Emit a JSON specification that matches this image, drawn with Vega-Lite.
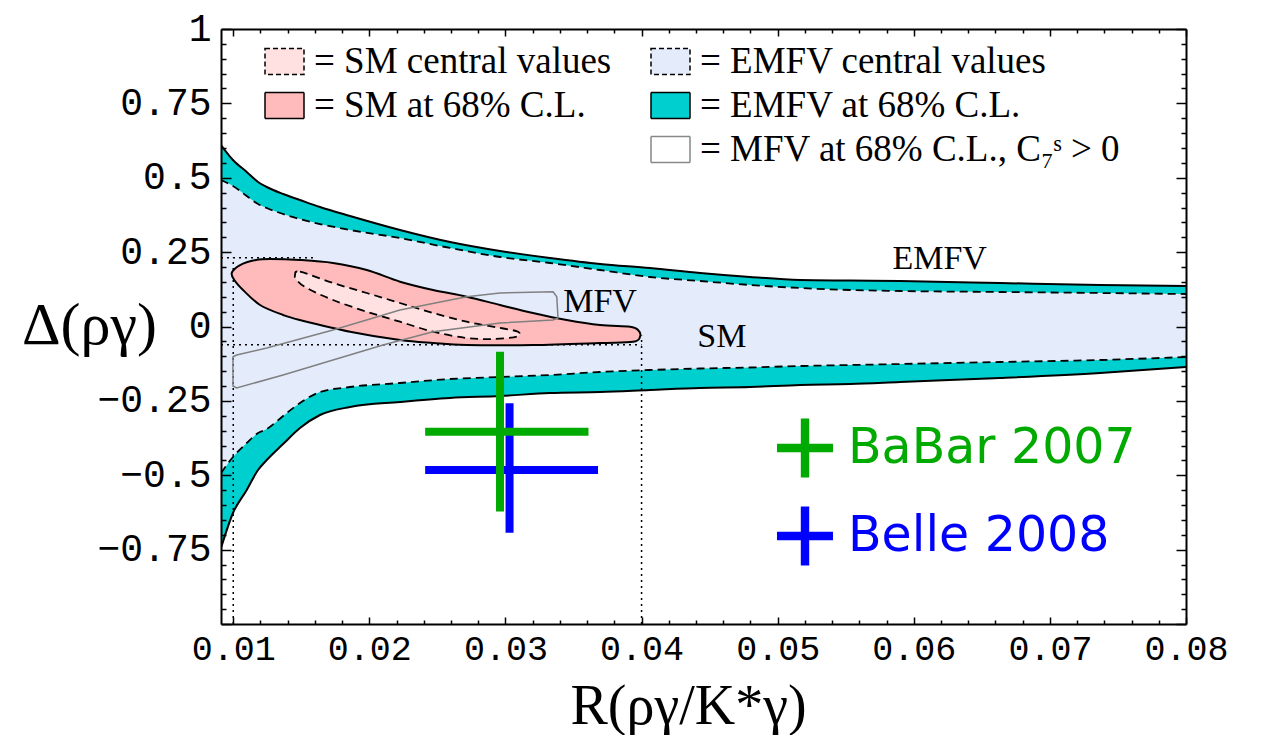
{
"$schema": "https://vega.github.io/schema/vega-lite/v6.json",
"width": 965, "height": 595,
"autosize": {"type": "none"},
"padding": {"left": 221, "top": 29, "right": 77, "bottom": 111},
"background": "white",
"config": {"view": {"stroke": null}, "axis": {"grid": false}},
"datasets": {
"emfv": [
{"x":0.0091,"hi68":0.610,"hicen":0.4924,"locen":-0.4924,"lo68":-0.7445},
{"x":0.00998,"hi68":0.5597,"hicen":0.4723,"locen":-0.4387,"lo68":-0.6269},
{"x":0.01099,"hi68":0.5193,"hicen":0.4387,"locen":-0.3916,"lo68":-0.5496},
{"x":0.01182,"hi68":0.4857,"hicen":0.4118,"locen":-0.358,"lo68":-0.4824},
{"x":0.01246,"hi68":0.4689,"hicen":0.3983,"locen":-0.3445,"lo68":-0.4487},
{"x":0.01366,"hi68":0.4454,"hicen":0.3782,"locen":-0.3008,"lo68":-0.395},
{"x":0.0149,"hi68":0.4252,"hicen":0.3613,"locen":-0.2571,"lo68":-0.3412},
{"x":0.01637,"hi68":0.4017,"hicen":0.3445,"locen":-0.2202,"lo68":-0.2975},
{"x":0.01858,"hi68":0.3714,"hicen":0.3244,"locen":-0.2034,"lo68":-0.2706},
{"x":0.02225,"hi68":0.3244,"hicen":0.2975,"locen":-0.1899,"lo68":-0.2538},
{"x":0.02593,"hi68":0.284,"hicen":0.2639,"locen":-0.1765,"lo68":-0.2403},
{"x":0.0296,"hi68":0.2538,"hicen":0.2336,"locen":-0.1697,"lo68":-0.2336},
{"x":0.03327,"hi68":0.2303,"hicen":0.2134,"locen":-0.163,"lo68":-0.2235},
{"x":0.03695,"hi68":0.2101,"hicen":0.1899,"locen":-0.1529,"lo68":-0.2202},
{"x":0.04062,"hi68":0.1966,"hicen":0.1664,"locen":-0.1462,"lo68":-0.2134},
{"x":0.0443,"hi68":0.1798,"hicen":0.1529,"locen":-0.1412,"lo68":-0.2067},
{"x":0.04797,"hi68":0.1664,"hicen":0.1395,"locen":-0.1378,"lo68":-0.2034},
{"x":0.05164,"hi68":0.1563,"hicen":0.1294,"locen":-0.1328,"lo68":-0.1966},
{"x":0.05532,"hi68":0.1546,"hicen":0.1227,"locen":-0.1294,"lo68":-0.1933},
{"x":0.05899,"hi68":0.1529,"hicen":0.1193,"locen":-0.1261,"lo68":-0.1866},
{"x":0.06634,"hi68":0.1462,"hicen":0.116,"locen":-0.1193,"lo68":-0.1731},
{"x":0.07369,"hi68":0.1395,"hicen":0.1126,"locen":-0.1126,"lo68":-0.1563},
{"x":0.08,"hi68":0.1361,"hicen":0.1092,"locen":-0.1025,"lo68":-0.1361}
],
"sm68": [
{"i":0,"x":0.00989,"y":0.1798},{"i":1,"x":0.0105,"y":0.2067},{"i":2,"x":0.01167,"y":0.2235},{"i":3,"x":0.0127,"y":0.2269},
{"i":4,"x":0.0149,"y":0.2235},{"i":5,"x":0.01733,"y":0.2134},{"i":6,"x":0.01981,"y":0.1899},{"i":7,"x":0.02225,"y":0.1506},
{"i":8,"x":0.02468,"y":0.1227},{"i":9,"x":0.02715,"y":0.1002},{"i":10,"x":0.0296,"y":0.0723},{"i":11,"x":0.03202,"y":0.0454},
{"i":12,"x":0.0345,"y":0.0218},{"i":13,"x":0.03695,"y":0.005},{"i":14,"x":0.03915,"y":-0.0007},{"i":15,"x":0.03974,"y":-0.0118},
{"i":16,"x":0.03989,"y":-0.0343},{"i":17,"x":0.03937,"y":-0.0511},{"i":18,"x":0.03695,"y":-0.0555},{"i":19,"x":0.03202,"y":-0.0622},
{"i":20,"x":0.02715,"y":-0.0622},{"i":21,"x":0.02468,"y":-0.0555},{"i":22,"x":0.02225,"y":-0.0454},{"i":23,"x":0.01858,"y":-0.0175},
{"i":24,"x":0.0149,"y":0.0218},{"i":25,"x":0.01366,"y":0.0387},{"i":26,"x":0.01197,"y":0.0723},{"i":27,"x":0.01072,"y":0.1227},
{"i":28,"x":0.01013,"y":0.1529}
],
"smcen": [
{"i":0,"x":0.01454,"y":0.1731},{"i":1,"x":0.0149,"y":0.1842},{"i":2,"x":0.01733,"y":0.1462},{"i":3,"x":0.01981,"y":0.1126},
{"i":4,"x":0.02225,"y":0.079},{"i":5,"x":0.02468,"y":0.0454},{"i":6,"x":0.02715,"y":0.0161},{"i":7,"x":0.0296,"y":-0.005},
{"i":8,"x":0.03092,"y":-0.0175},{"i":9,"x":0.03083,"y":-0.0343},{"i":10,"x":0.0291,"y":-0.042},{"i":11,"x":0.02715,"y":-0.0387},
{"i":12,"x":0.02468,"y":-0.0175},{"i":13,"x":0.02225,"y":0.0161},{"i":14,"x":0.01981,"y":0.0497},{"i":15,"x":0.01733,"y":0.0891},
{"i":16,"x":0.0154,"y":0.1294},{"i":17,"x":0.01466,"y":0.1563}
],
"mfv": [
{"i":0,"x":0.00998,"y":-0.1015},{"i":1,"x":0.01025,"y":-0.0958},{"i":2,"x":0.01246,"y":-0.0723},{"i":3,"x":0.01733,"y":-0.0118},
{"i":4,"x":0.02225,"y":0.0555},{"i":5,"x":0.02715,"y":0.1002},{"i":6,"x":0.0296,"y":0.1126},{"i":7,"x":0.0335,"y":0.117},
{"i":8,"x":0.03377,"y":0.1002},{"i":9,"x":0.03386,"y":0.0286},{"i":10,"x":0.0335,"y":0.0218},{"i":11,"x":0.0296,"y":0.0118},
{"i":12,"x":0.02468,"y":-0.0175},{"i":13,"x":0.021,"y":-0.0622},{"i":14,"x":0.01733,"y":-0.1126},{"i":15,"x":0.01366,"y":-0.163},
{"i":16,"x":0.01025,"y":-0.2067},{"i":17,"x":0.00998,"y":-0.2}
],
"dotted": [
{"x":0.01,"x2":0.01,"y":-1,"y2":0.231},
{"x":0.04,"x2":0.04,"y":-1,"y2":-0.03},
{"x":0.0091,"x2":0.04,"y":-0.061,"y2":-0.061},
{"x":0.0091,"x2":0.016,"y":0.231,"y2":0.231}
],
"notes": [
{"t":"MFV","x":0.03695,"y":0.082},
{"t":"SM","x":0.0459,"y":-0.035},
{"t":"EMFV","x":0.0619,"y":0.227}
],
"exps": [
{"exp":"Belle 2008","x":0.0303,"xlo":0.0241,"xhi":0.0368,"y":-0.482,"ylo":-0.693,"yhi":-0.258},
{"exp":"BaBar 2007","x":0.0296,"xlo":0.0241,"xhi":0.0361,"y":-0.354,"ylo":-0.622,"yhi":-0.085}
]
},
"resolve": {"scale": {"fill": "independent"}, "axis": {"x": "independent", "y": "independent"}},
"layer": [
{
"layer": [
{"data": {"name": "emfv"},
 "mark": {"type": "area", "interpolate": "monotone", "clip": true},
 "encoding": {
  "x": {"field": "x", "type": "quantitative", "scale": {"domain": [0.0091, 0.08], "nice": false, "zero": false}, "axis": null},
  "y": {"field": "locen", "type": "quantitative", "scale": {"domain": [-1, 1], "nice": false, "zero": false}, "axis": null},
  "y2": {"field": "hicen"},
  "fill": {"datum": "EMFV central values", "type": "nominal",
   "scale": {"domain": ["EMFV central values", "EMFV at 68% C.L.", "MFV at 68% C.L., C₇ˢ > 0"], "range": ["#E4ECFC", "#00CFCF", "#FFFFFF"]},
   "legend": {"orient": "none", "legendX": 431, "legendY": 14, "title": null, "direction": "vertical", "padding": 0,
    "symbolType": "M-1.5,-1H1.5V1H-1.5Z", "symbolSize": 676, "symbolStrokeWidth": 1.5, "symbolStrokeColor": "black",
    "labelFont": "Liberation Serif", "labelFontSize": 37, "labelColor": "black", "labelLimit": 0, "labelOffset": 11, "rowPadding": 6,
    "labelExpr": "'= ' + datum.label",
    "encode": {"symbols": {"update": {
     "strokeDash": {"signal": "datum.value === 'EMFV central values' ? [5,3] : [1,0]"},
     "stroke": {"signal": "datum.value === 'EMFV at 68% C.L.' || datum.value === 'EMFV central values' ? 'black' : '#888888'"},
     "fill": {"signal": "datum.value === 'EMFV central values' ? '#E4ECFC' : (datum.value === 'EMFV at 68% C.L.' ? '#00CFCF' : '#FFFFFF')"},
     "opacity": {"value": 1}, "fillOpacity": {"value": 1}, "strokeWidth": {"value": 1.5}}}}}}
 }},
{"data": {"name": "emfv"},
 "mark": {"type": "area", "interpolate": "monotone", "clip": true},
 "encoding": {
  "x": {"field": "x", "type": "quantitative", "scale": {"domain": [0.0091, 0.08], "nice": false, "zero": false}, "axis": null},
  "y": {"field": "hicen", "type": "quantitative", "scale": {"domain": [-1, 1], "nice": false, "zero": false}, "axis": null},
  "y2": {"field": "hi68"},
  "fill": {"datum": "EMFV at 68% C.L.", "type": "nominal",
   "scale": {"domain": ["EMFV central values", "EMFV at 68% C.L.", "MFV at 68% C.L., C₇ˢ > 0"], "range": ["#E4ECFC", "#00CFCF", "#FFFFFF"]}}
 }},
{"data": {"name": "emfv"},
 "mark": {"type": "area", "interpolate": "monotone", "clip": true},
 "encoding": {
  "x": {"field": "x", "type": "quantitative", "scale": {"domain": [0.0091, 0.08], "nice": false, "zero": false}, "axis": null},
  "y": {"field": "lo68", "type": "quantitative", "scale": {"domain": [-1, 1], "nice": false, "zero": false}, "axis": null},
  "y2": {"field": "locen"},
  "fill": {"datum": "EMFV at 68% C.L.", "type": "nominal",
   "scale": {"domain": ["EMFV central values", "EMFV at 68% C.L.", "MFV at 68% C.L., C₇ˢ > 0"], "range": ["#E4ECFC", "#00CFCF", "#FFFFFF"]}}
 }},
{"data": {"name": "emfv"},
 "transform": [{"fold": ["hi68", "lo68"], "as": ["k", "v"]}],
 "mark": {"type": "line", "interpolate": "monotone", "stroke": "black", "strokeWidth": 2, "clip": true},
 "encoding": {
  "x": {"field": "x", "type": "quantitative", "scale": {"domain": [0.0091, 0.08], "nice": false, "zero": false}, "axis": null},
  "y": {"field": "v", "type": "quantitative", "scale": {"domain": [-1, 1], "nice": false, "zero": false}, "axis": null},
  "detail": {"field": "k", "type": "nominal"}
 }},
{"data": {"name": "emfv"},
 "transform": [{"fold": ["hicen", "locen"], "as": ["k", "v"]}],
 "mark": {"type": "line", "interpolate": "monotone", "stroke": "black", "strokeWidth": 1.8, "strokeDash": [8, 5], "clip": true},
 "encoding": {
  "x": {"field": "x", "type": "quantitative", "scale": {"domain": [0.0091, 0.08], "nice": false, "zero": false}, "axis": null},
  "y": {"field": "v", "type": "quantitative", "scale": {"domain": [-1, 1], "nice": false, "zero": false}, "axis": null},
  "detail": {"field": "k", "type": "nominal"}
 }}
]
},
{"data": {"name": "dotted"},
 "mark": {"type": "rule", "stroke": "black", "strokeWidth": 1.5, "strokeDash": [2, 4], "clip": true},
 "encoding": {
  "x": {"field": "x", "type": "quantitative", "scale": {"domain": [0.0091, 0.08], "nice": false, "zero": false},
   "axis": {"orient": "bottom", "zindex": 1, "grid": false,
    "values": [0.01,0.012,0.014,0.016,0.018,0.02,0.022,0.024,0.026,0.028,0.03,0.032,0.034,0.036,0.038,0.04,0.042,0.044,0.046,0.048,0.05,0.052,0.054,0.056,0.058,0.06,0.062,0.064,0.066,0.068,0.07,0.072,0.074,0.076,0.078,0.08],
    "domain": true, "domainColor": "black", "domainWidth": 2,
    "ticks": true, "tickColor": "black", "tickWidth": 1.5,
    "tickSize": {"condition": {"test": "abs(datum.value*100 - round(datum.value*100)) < 1e-6", "value": -7}, "value": -4},
    "labelExpr": "abs(datum.value*100 - round(datum.value*100)) < 1e-6 ? format(datum.value, '.2f') : ''",
    "labelFont": "Liberation Mono", "labelFontSize": 35, "labelColor": "black", "labelPadding": 14,
    "labelFlush": false, "labelOverlap": false, "labelBound": false,
    "title": "R(ργ/K*γ)", "titleFont": "Liberation Serif", "titleFontSize": 56, "titleFontWeight": "normal", "titleColor": "black",
    "titleX": 467, "titleY": 99, "titleAlign": "center", "titleBaseline": "alphabetic"}},
  "x2": {"field": "x2"},
  "y": {"field": "y", "type": "quantitative", "scale": {"domain": [-1, 1], "nice": false, "zero": false},
   "axis": {"orient": "left", "zindex": 1, "grid": false,
    "values": [-1,-0.95,-0.9,-0.85,-0.8,-0.75,-0.7,-0.65,-0.6,-0.55,-0.5,-0.45,-0.4,-0.35,-0.3,-0.25,-0.2,-0.15,-0.1,-0.05,0,0.05,0.1,0.15,0.2,0.25,0.3,0.35,0.4,0.45,0.5,0.55,0.6,0.65,0.7,0.75,0.8,0.85,0.9,0.95,1],
    "domain": true, "domainColor": "black", "domainWidth": 2,
    "ticks": true, "tickColor": "black", "tickWidth": 1.5,
    "tickSize": {"condition": {"test": "abs(datum.value*4 - round(datum.value*4)) < 1e-6", "value": -10}, "value": -5},
    "labelExpr": "abs(datum.value*4 - round(datum.value*4)) < 1e-6 && datum.value > -0.99 ? format(datum.value, '~g') : ''",
    "labelFont": "Liberation Mono", "labelFontSize": 38, "labelColor": "black", "labelPadding": 20,
    "labelFlush": false, "labelOverlap": false, "labelBound": false,
    "title": "Δ(ργ)", "titleAngle": 0, "titleFont": "Liberation Serif", "titleFontSize": 60, "titleFontWeight": "normal", "titleColor": "black",
    "titleX": -132, "titleY": 314, "titleAlign": "center", "titleBaseline": "alphabetic"}},
  "y2": {"field": "y2"}
 }},
{
"layer": [
{"data": {"name": "sm68"},
 "mark": {"type": "line", "interpolate": "cardinal-closed", "stroke": "black", "strokeWidth": 2, "clip": true},
 "encoding": {
  "x": {"field": "x", "type": "quantitative", "scale": {"domain": [0.0091, 0.08], "nice": false, "zero": false}, "axis": null},
  "y": {"field": "y", "type": "quantitative", "scale": {"domain": [-1, 1], "nice": false, "zero": false}, "axis": null},
  "order": {"field": "i", "type": "quantitative"},
  "fill": {"datum": "SM at 68% C.L.", "type": "nominal",
   "scale": {"domain": ["SM central values", "SM at 68% C.L."], "range": ["#FFE1E1", "#FFBBBB"]},
   "legend": {"orient": "none", "legendX": 45, "legendY": 14, "title": null, "direction": "vertical", "padding": 0,
    "symbolType": "M-1.5,-1H1.5V1H-1.5Z", "symbolSize": 676, "symbolStrokeWidth": 1.5, "symbolStrokeColor": "black",
    "labelFont": "Liberation Serif", "labelFontSize": 37, "labelColor": "black", "labelLimit": 0, "labelOffset": 11, "rowPadding": 6,
    "labelExpr": "'= ' + datum.label",
    "encode": {"symbols": {"update": {
     "strokeDash": {"signal": "datum.value === 'SM central values' ? [5,3] : [1,0]"},
     "stroke": {"value": "black"},
     "fill": {"signal": "datum.value === 'SM central values' ? '#FFE1E1' : '#FFBBBB'"},
     "opacity": {"value": 1}, "fillOpacity": {"value": 1}, "strokeWidth": {"value": 1.5}}}}}}
 }},
{"data": {"name": "smcen"},
 "mark": {"type": "line", "interpolate": "cardinal-closed", "stroke": "black", "strokeWidth": 1.8, "strokeDash": [8, 5], "clip": true},
 "encoding": {
  "x": {"field": "x", "type": "quantitative", "scale": {"domain": [0.0091, 0.08], "nice": false, "zero": false}, "axis": null},
  "y": {"field": "y", "type": "quantitative", "scale": {"domain": [-1, 1], "nice": false, "zero": false}, "axis": null},
  "order": {"field": "i", "type": "quantitative"},
  "fill": {"datum": "SM central values", "type": "nominal",
   "scale": {"domain": ["SM central values", "SM at 68% C.L."], "range": ["#FFE1E1", "#FFBBBB"]}}
 }}
]
},
{"data": {"name": "mfv"},
 "mark": {"type": "line", "interpolate": "linear-closed", "stroke": "#808080", "strokeWidth": 1.5, "clip": true},
 "encoding": {
  "x": {"field": "x", "type": "quantitative", "scale": {"domain": [0.0091, 0.08], "nice": false, "zero": false}, "axis": null},
  "y": {"field": "y", "type": "quantitative", "scale": {"domain": [-1, 1], "nice": false, "zero": false}, "axis": null},
  "order": {"field": "i", "type": "quantitative"}
 }},
{"data": {"name": "notes"},
 "mark": {"type": "text", "font": "Liberation Serif", "fontSize": 34, "color": "black", "align": "center", "baseline": "middle"},
 "encoding": {
  "x": {"field": "x", "type": "quantitative", "scale": {"domain": [0.0091, 0.08], "nice": false, "zero": false},
   "axis": {"orient": "top", "zindex": 1, "grid": false, "labels": false, "title": null,
    "values": [0.01,0.012,0.014,0.016,0.018,0.02,0.022,0.024,0.026,0.028,0.03,0.032,0.034,0.036,0.038,0.04,0.042,0.044,0.046,0.048,0.05,0.052,0.054,0.056,0.058,0.06,0.062,0.064,0.066,0.068,0.07,0.072,0.074,0.076,0.078,0.08],
    "domain": true, "domainColor": "black", "domainWidth": 2,
    "ticks": true, "tickColor": "black", "tickWidth": 1.5,
    "tickSize": {"condition": {"test": "abs(datum.value*100 - round(datum.value*100)) < 1e-6", "value": -7}, "value": -4}}},
  "y": {"field": "y", "type": "quantitative", "scale": {"domain": [-1, 1], "nice": false, "zero": false},
   "axis": {"orient": "right", "zindex": 1, "grid": false, "labels": false, "title": null,
    "values": [-1,-0.95,-0.9,-0.85,-0.8,-0.75,-0.7,-0.65,-0.6,-0.55,-0.5,-0.45,-0.4,-0.35,-0.3,-0.25,-0.2,-0.15,-0.1,-0.05,0,0.05,0.1,0.15,0.2,0.25,0.3,0.35,0.4,0.45,0.5,0.55,0.6,0.65,0.7,0.75,0.8,0.85,0.9,0.95,1],
    "domain": true, "domainColor": "black", "domainWidth": 2,
    "ticks": true, "tickColor": "black", "tickWidth": 1.5,
    "tickSize": {"condition": {"test": "abs(datum.value*4 - round(datum.value*4)) < 1e-6", "value": -10}, "value": -5}}},
  "text": {"field": "t", "type": "nominal"}
 }},
{
"data": {"name": "exps"},
"layer": [
{"transform": [{"filter": "datum.exp === 'Belle 2008'"}],
 "mark": {"type": "rule", "strokeWidth": 8, "strokeCap": "butt", "clip": true},
 "encoding": {
  "x": {"field": "xlo", "type": "quantitative", "scale": {"domain": [0.0091, 0.08], "nice": false, "zero": false}, "axis": null},
  "x2": {"field": "xhi"},
  "y": {"field": "y", "type": "quantitative", "scale": {"domain": [-1, 1], "nice": false, "zero": false}, "axis": null},
  "color": {"field": "exp", "type": "nominal", "scale": {"domain": ["BaBar 2007", "Belle 2008"], "range": ["#00AA00", "#0000FF"]},
   "legend": {"orient": "none", "legendX": 556, "legendY": 391, "title": null, "direction": "vertical", "padding": 0,
    "symbolType": "M-1,-0.15H1V0.15H-1ZM-0.15,-1.05H0.15V1.05H-0.15Z", "symbolSize": 3136,
    "labelFont": "DejaVu Sans", "labelFontSize": 49, "labelLimit": 0, "labelOffset": 15, "rowPadding": 28,
    "encode": {"symbols": {"update": {
      "fill": {"signal": "datum.value === 'BaBar 2007' ? '#00AA00' : '#0000FF'"},
      "stroke": {"value": "transparent"}, "strokeWidth": {"value": 0}, "opacity": {"value": 1}, "fillOpacity": {"value": 1}}},
     "labels": {"update": {"fill": {"signal": "datum.value === 'BaBar 2007' ? '#00AA00' : '#0000FF'"}}}}}}
 }},
{"transform": [{"filter": "datum.exp === 'Belle 2008'"}],
 "mark": {"type": "rule", "strokeWidth": 8, "strokeCap": "butt", "clip": true},
 "encoding": {
  "x": {"field": "x", "type": "quantitative", "scale": {"domain": [0.0091, 0.08], "nice": false, "zero": false}, "axis": null},
  "y": {"field": "ylo", "type": "quantitative", "scale": {"domain": [-1, 1], "nice": false, "zero": false}, "axis": null},
  "y2": {"field": "yhi"},
  "color": {"field": "exp", "type": "nominal", "scale": {"domain": ["BaBar 2007", "Belle 2008"], "range": ["#00AA00", "#0000FF"]}}
 }},
{"transform": [{"filter": "datum.exp === 'BaBar 2007'"}],
 "mark": {"type": "rule", "strokeWidth": 8, "strokeCap": "butt", "clip": true},
 "encoding": {
  "x": {"field": "xlo", "type": "quantitative", "scale": {"domain": [0.0091, 0.08], "nice": false, "zero": false}, "axis": null},
  "x2": {"field": "xhi"},
  "y": {"field": "y", "type": "quantitative", "scale": {"domain": [-1, 1], "nice": false, "zero": false}, "axis": null},
  "color": {"field": "exp", "type": "nominal", "scale": {"domain": ["BaBar 2007", "Belle 2008"], "range": ["#00AA00", "#0000FF"]}}
 }},
{"transform": [{"filter": "datum.exp === 'BaBar 2007'"}],
 "mark": {"type": "rule", "strokeWidth": 8, "strokeCap": "butt", "clip": true},
 "encoding": {
  "x": {"field": "x", "type": "quantitative", "scale": {"domain": [0.0091, 0.08], "nice": false, "zero": false}, "axis": null},
  "y": {"field": "ylo", "type": "quantitative", "scale": {"domain": [-1, 1], "nice": false, "zero": false}, "axis": null},
  "y2": {"field": "yhi"},
  "color": {"field": "exp", "type": "nominal", "scale": {"domain": ["BaBar 2007", "Belle 2008"], "range": ["#00AA00", "#0000FF"]}}
 }}
]
}
]
}
